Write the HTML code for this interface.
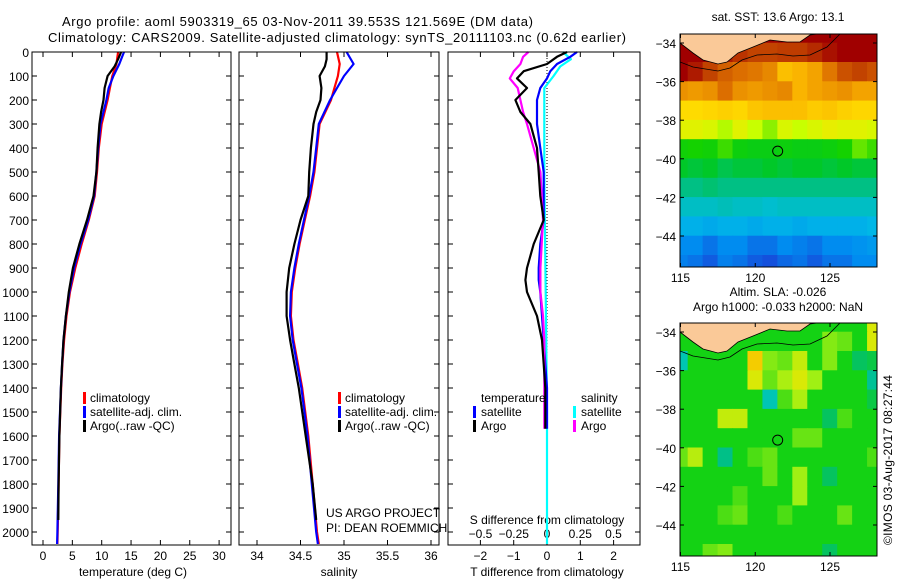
<!DOCTYPE html>
<html><head><meta charset="utf-8"><style>
body{margin:0;background:#fff}
svg text{font-family:"Liberation Sans",sans-serif;font-size:12px;fill:#000}
</style></head><body>
<svg id="fig" width="900" height="580" viewBox="0 0 900 580" xmlns="http://www.w3.org/2000/svg">
<rect width="900" height="580" fill="#fff"/>
<text x="62" y="26" textLength="471" style="font-size:13px">Argo profile: aoml 5903319_65 03-Nov-2011 39.553S 121.569E (DM data)</text>
<text x="48" y="42" textLength="578" style="font-size:13px">Climatology: CARS2009. Satellite-adjusted climatology: synTS_20111103.nc (0.62d earlier)</text>
<g id="g"></g>
<text transform="translate(892,545) rotate(-90)" textLength="170">©IMOS 03-Aug-2017 08:27:44</text>
</svg>
<script>
// ---------- data ----------
const depthClim = [0,50,100,150,200,300,400,500,600,700,800,900,1000,1100,1200,1300,1400,1600,1800,2000,2050];
const tempClim  = [12.8,12.5,11.8,11.4,11.0,10.0,9.5,9.2,8.8,7.8,6.6,5.5,4.6,4.0,3.6,3.3,3.1,2.8,2.65,2.5,2.45];
const tempSat   = [13.8,13.0,12.0,11.2,10.8,9.8,9.4,9.1,8.7,7.7,6.4,5.3,4.5,3.9,3.5,3.25,3.05,2.75,2.6,2.45,2.4];
const depthArgo = [0,30,60,100,150,200,250,300,400,500,600,700,800,900,1000,1100,1200,1300,1400,1600,1800,1950];
const tempArgo  = [13.3,12.8,12.2,11.0,10.5,10.3,9.9,9.6,9.3,9.1,8.6,7.5,6.2,5.1,4.4,3.9,3.5,3.25,3.05,2.8,2.65,2.6];
const salClim   = [34.92,34.95,34.93,34.89,34.85,34.72,34.69,34.66,34.61,34.55,34.49,34.44,34.40,34.39,34.42,34.47,34.52,34.59,34.64,34.69,34.71];
const salSat    = [35.03,35.11,35.00,34.92,34.84,34.71,34.68,34.65,34.60,34.54,34.48,34.43,34.39,34.38,34.41,34.46,34.51,34.58,34.63,34.68,34.70];
const salArgo   = [34.80,34.80,34.78,34.72,34.74,34.73,34.68,34.65,34.62,34.60,34.59,34.50,34.43,34.37,34.34,34.34,34.38,34.43,34.48,34.56,34.64,34.68];
const depthDiff = [0,20,50,80,110,150,200,250,300,400,500,600,700,800,900,950,1000,1100,1200,1300,1400,1500,1570];
const tDiffArgo = [0.6,0.3,0.0,-0.7,-0.9,-0.6,-0.95,-0.8,-0.5,-0.3,-0.25,-0.2,-0.1,-0.4,-0.6,-0.65,-0.6,-0.3,-0.15,-0.1,-0.05,-0.05,-0.05];
const tDiffSat  = [0.9,0.7,0.3,0.1,0.0,-0.2,-0.3,-0.3,-0.3,-0.2,-0.1,-0.1,-0.1,-0.2,-0.25,-0.25,-0.2,-0.15,-0.1,-0.05,0.0,0.0,0.0];
const sDiffArgo = [-0.14,-0.18,-0.2,-0.25,-0.28,-0.22,-0.2,-0.18,-0.15,-0.1,-0.05,-0.04,-0.03,-0.04,-0.05,-0.05,-0.05,-0.03,-0.02,-0.02,-0.02,-0.02,-0.02];
const depthSD   = [0,30,60,100,150,300,500,1000,1500,2000,2050];
const sDiffSat  = [0.12,0.18,0.1,0.05,-0.02,-0.02,-0.02,-0.01,0.0,0.0,0.0];
const depthTicks = [0,100,200,300,400,500,600,700,800,900,1000,1100,1200,1300,1400,1500,1600,1700,1800,1900,2000];
const tempTicks = [0,5,10,15,20,25,30];
const salTicks = [34,34.5,35,35.5,36];
const tdTicks = [-2,-1,0,1,2];
const sdTicks = [-0.5,-0.25,0,0.25,0.5];
const sdTickLabels = ["−0.5","−0.25","0","0.25","0.5"];
const tdTickLabels = ["−2","−1","0","1","2"];
const mapLonTicks = [115,120,125];
const mapLatTicks = [-34,-36,-38,-40,-42,-44];
const mapLats = [-33.5,-34.5,-35.5,-36.5,-37.5,-38.5,-39.5,-40.5,-41.5,-42.5,-43.5,-44.5,-45.5];
const mapLons = [115,116,117,118,119,120,121,122,123,124,125,126,127,128];
const sst = [
[19,19,19,19,19,19,19,19,19,19,19,19,19,19],
[19,19,19,18.7,18.4,18.2,18.2,18.3,18.3,18.5,18.8,19,19,19],
[19,18.7,18.2,17.8,17.6,17.5,17.3,16.6,16.8,17,17.5,18,18.2,18],
[17.2,17.1,17.2,17.6,17.2,17.1,17.2,17.3,16.8,17,17.1,17.2,17,17],
[16.1,16.1,16.2,16.3,16.2,16.5,16.6,16.6,16.6,16.4,16.5,16.3,16.2,16.2],
[15.6,15.6,15.5,15.2,15.6,15.3,15.0,15.5,15.3,15.5,15.7,15.6,15.6,15.5],
[14.3,14.4,14.3,14.6,14.2,14.1,14.1,14.2,14.1,14.1,14.2,14.4,14.8,14.6],
[13.8,13.7,13.8,13.6,13.7,13.7,13.8,13.7,13.8,13.8,13.7,13.8,13.7,13.7],
[13.3,13.3,13.4,13.3,13.3,13.3,13.3,13.3,13.3,13.3,13.3,13.3,13.3,13.3],
[12.8,12.8,12.8,12.9,12.8,12.8,12.7,12.8,12.8,12.8,12.8,12.8,12.8,12.8],
[12.3,12.3,12.2,12.3,12.3,12.2,12.3,12.3,12.2,12.3,12.3,12.3,12.3,12.4],
[11.8,11.8,11.6,11.8,11.8,11.6,11.6,11.8,11.7,11.6,11.8,11.8,11.9,12.0],
[11.7,11.6,11.4,11.7,11.6,11.4,11.3,11.5,11.6,11.4,11.6,11.6,11.8,11.8]];
const sla = [
[0,0,0,0,0,0,0,0,0,0,0,0,0,0.1],
[0,0,0,0,0,0,0,0,0,0,0.04,0.03,0,0.1],
[-0.08,0,0,0,0,0.15,0.04,0.03,0.08,0,0.04,0,-0.03,-0.02],
[0,0,0,0,0,0.1,0.03,0.06,0.1,0.05,0,0,0,-0.06],
[0,0,0,0,0,0,-0.08,0.02,0.06,0,0,0,0,-0.02],
[0,0,0,0.08,0.08,0,0,0,0,0,-0.03,0.02,0,0],
[0,0,0,0,0,0,0,0,0.03,0.03,0,0,0,0],
[0.03,0.07,0,-0.05,0,0.02,0.03,0,0,0,0,0,0,0.02],
[0,0,0,0,0,0,0.03,0,0.05,0,-0.03,0,0,0],
[0,0,0,0,0.02,0,0,0,0.05,0,0,0,0,0],
[0,0,0,0.02,0.03,0,0,0.02,0,0,0,0.03,0,0],
[0,0,0,0,0,0,0,0,0,0,0,0,0,0],
[0,0,0.03,0.04,0,0,0,0,0,0,-0.03,0,0,0]];
const argoLon = 121.5, argoLat = -39.6;

// ---------- helpers ----------
const NS="http://www.w3.org/2000/svg";
const G=document.getElementById('g');
function mk(t,a,p){const e=document.createElementNS(NS,t);for(const k in a)e.setAttribute(k,a[k]);(p||G).appendChild(e);return e;}
const Y0=52, YS=0.24;
function yD(d){return Y0+d*YS;}
const panels=[
 {x0:32,x1:231,vx:v=>43+v*5.87},
 {x0:239,x1:439,vx:v=>257+(v-34)*87},
 {x0:448,x1:640,vx:v=>547+v*33.3},
];
const sx=v=>547+v*133;
const BOT=545;

function frame(p,name){
  const r=mk('rect',{x:p.x0,y:Y0,width:p.x1-p.x0,height:BOT-Y0,fill:'none',stroke:'#000','stroke-width':1});
  
  
}
function line(xs,ds,fx,col,name){
  const pts=xs.map((v,i)=>fx(v).toFixed(1)+','+yD(ds[i]).toFixed(1)).join(' ');
  const e=mk('polyline',{points:pts,fill:'none',stroke:col,'stroke-width':2.2,'stroke-linejoin':'round'});
  
  
}
function txt(x,y,s,anchor,name,extra){
  const e=mk('text',Object.assign({x:x,y:y,'text-anchor':anchor||'start'},extra||{}));
  e.textContent=s;
  
  
  return e;
}
function legBar(x,y,col,name){
  const e=mk('rect',{x:x,y:y-10,width:3,height:12,fill:col});
  
  
}

depthTicks.forEach(d=>{
  txt(29,yD(d)+5,String(d),'end','y-tick-label');
  panels.forEach(p=>{
    mk('line',{x1:p.x0,x2:p.x0+5,y1:yD(d),y2:yD(d),stroke:'#000'});
    mk('line',{x1:p.x1,x2:p.x1-5,y1:yD(d),y2:yD(d),stroke:'#000'});
  });
});
function xTicks(p,ticks,fx,labels,name){
  ticks.forEach((t,i)=>{
    const x=fx(t);
    mk('line',{x1:x,x2:x,y1:BOT,y2:BOT-5,stroke:'#000'});
    mk('line',{x1:x,x2:x,y1:Y0,y2:Y0+5,stroke:'#000'});
    txt(x,560,labels?labels[i]:String(t),'middle',name);
  });
}
xTicks(panels[0],tempTicks,panels[0].vx,null,'temperature-tick-label');
xTicks(panels[1],salTicks,panels[1].vx,null,'salinity-tick-label');
xTicks(panels[2],tdTicks,panels[2].vx,tdTickLabels,'t-diff-tick-label');
sdTicks.forEach((t,i)=>{txt(sx(t),538,sdTickLabels[i],'middle','s-diff-tick-label');});
txt(133,576,'temperature (deg C)','middle','x-axis-title-temperature');
txt(339,576,'salinity','middle','x-axis-title-salinity');
txt(547,576,'T difference from climatology','middle','x-axis-title-t-diff');
txt(547,524,'S difference from climatology','middle','x-axis-title-s-diff');

line(tempClim,depthClim,panels[0].vx,'#f00','temp-climatology-line');
line(tempSat,depthClim,panels[0].vx,'#00f','temp-satellite-line');
line(tempArgo,depthArgo,panels[0].vx,'#000','temp-argo-line');
line(salClim,depthClim,panels[1].vx,'#f00','sal-climatology-line');
line(salSat,depthClim,panels[1].vx,'#00f','sal-satellite-line');
line(salArgo,depthArgo,panels[1].vx,'#000','sal-argo-line');
mk('line',{x1:547,x2:547,y1:Y0,y2:BOT,stroke:'#000','stroke-dasharray':'1,2'});
line(sDiffSat,depthSD,sx,'#0ff','s-diff-satellite-line');
line(tDiffSat,depthDiff,panels[2].vx,'#00f','t-diff-satellite-line');
line(sDiffArgo,depthDiff,sx,'#f0f','s-diff-argo-line');
line(tDiffArgo,depthDiff,panels[2].vx,'#000','t-diff-argo-line');

frame(panels[0],'temperature-panel');
frame(panels[1],'salinity-panel');
frame(panels[2],'difference-panel');

[[83,'temperature'],[338,'salinity']].forEach(([lx,nm])=>{
  legBar(lx,402,'#f00','legend-climatology-'+nm);txt(lx+7,402,'climatology','start','legend-text');
  legBar(lx,416,'#00f','legend-satellite-'+nm);txt(lx+7,416,'satellite-adj. clim.','start','legend-text');
  legBar(lx,430,'#000','legend-argo-'+nm);txt(lx+7,430,'Argo(..raw -QC)','start','legend-text');
});
txt(481,402,'temperature','start','legend-title-temperature');
legBar(473,416,'#00f','legend-t-satellite');txt(481,416,'satellite','start','legend-text');
legBar(473,430,'#000','legend-t-argo');txt(481,430,'Argo','start','legend-text');
txt(581,402,'salinity','start','legend-title-salinity');
legBar(573,416,'#0ff','legend-s-satellite');txt(581,416,'satellite','start','legend-text');
legBar(573,430,'#f0f','legend-s-argo');txt(581,430,'Argo','start','legend-text');
txt(326,517,'US ARGO PROJECT','start','project-credit');
txt(326,532,'PI: DEAN ROEMMICH','start','pi-credit');

// ---------- maps ----------
function rgb(c){return 'rgb('+c.join(',')+')';}
function lerpStops(stops,v){
  if(v<=stops[0][0])return rgb(stops[0][1]);
  for(let i=1;i<stops.length;i++){if(v<=stops[i][0]){const [a,ca]=stops[i-1],[b,cb]=stops[i];const t=(v-a)/(b-a);return rgb(ca.map((c,j)=>Math.round(c+(cb[j]-c)*t)));}}
  return rgb(stops[stops.length-1][1]);
}
const sstStops=[[11.3,[20,80,220]],[11.8,[0,140,240]],[12.5,[0,190,230]],[13.2,[0,190,150]],[13.8,[0,200,40]],[14.4,[20,210,0]],[15.3,[200,255,0]],[16.0,[255,225,0]],[16.8,[250,180,0]],[17.6,[220,110,0]],[18.3,[190,60,0]],[19,[160,0,0]]];
const slaStops=[[-0.1,[0,200,210]],[-0.04,[0,190,120]],[0,[20,210,20]],[0.05,[160,240,20]],[0.12,[240,230,0]],[0.2,[250,160,0]]];

function drawMap(top,grid,stops,name,title1,title2){
  const x0=680,x1=877,yTop=top,yBot=top+233;
  const lx=lon=>680.5+(lon-115)*14.95;
  const ly=lat=>top+9+(-34-lat)*19.3;
  const clipId='clip'+top;
  const cp=mk('clipPath',{id:clipId});mk('rect',{x:x0,y:yTop,width:x1-x0,height:yBot-yTop},cp);
  const g=mk('g',{'clip-path':'url(#'+clipId+')'});
  
  
  grid.forEach((row,i)=>row.forEach((v,j)=>{
    const c=mk('rect',{x:lx(mapLons[j]-0.5)-0.3,y:ly(mapLats[i]+0.5)-0.3,width:14.95+0.6,height:19.3+0.6,fill:lerpStops(stops,v)},g);
    
    
  }));
  const o=top-34;
  const land=mk('polygon',{points:[[680,34],[680,43],[693,53],[703,60],[718,64],[727,62],[738,53],[753,47],[770,40],[787,42],[800,42],[810,35],[817,34]].map(p=>p[0]+','+(p[1]+o)).join(' '),fill:'#fac998',stroke:'#000','stroke-width':0.8},g);
  
  
  mk('polyline',{points:[[680,62],[693,67],[718,71],[730,68],[742,60],[757,55],[777,54],[793,56],[810,55],[827,47],[840,34]].map(p=>p[0]+','+(p[1]+o)).join(' '),fill:'none',stroke:'#000','stroke-width':0.8},g);
  const fr=mk('rect',{x:x0,y:yTop,width:x1-x0,height:yBot-yTop,fill:'none',stroke:'#000'});
  
  
  const circ=mk('circle',{cx:lx(argoLon),cy:ly(argoLat),r:5,fill:'none',stroke:'#000'});
  
  
  mapLonTicks.forEach(l=>{
    mk('line',{x1:lx(l),x2:lx(l),y1:yBot,y2:yBot-4,stroke:'#000'});
    mk('line',{x1:lx(l),x2:lx(l),y1:yTop,y2:yTop+4,stroke:'#000'});
    txt(lx(l),yBot+15,String(l),'middle','map-lon-tick-label');
  });
  mapLatTicks.forEach(l=>{
    mk('line',{x1:x0,x2:x0+4,y1:ly(l),y2:ly(l),stroke:'#000'});
    mk('line',{x1:x1,x2:x1-4,y1:ly(l),y2:ly(l),stroke:'#000'});
    txt(676,ly(l)+5,String(l).replace('-','−'),'end','map-lat-tick-label');
  });
  if(title2){txt(778,top-27,title1,'middle',name+'-title');txt(778,top-12,title2,'middle',name+'-subtitle');}
  else txt(778,top-13,title1,'middle',name+'-title');
}
drawMap(34,sst,sstStops,'sst-map','sat. SST: 13.6 Argo: 13.1');
drawMap(323,sla,slaStops,'sla-map','Altim. SLA: -0.026','Argo h1000: -0.033 h2000: NaN');
</script>
</body></html>
